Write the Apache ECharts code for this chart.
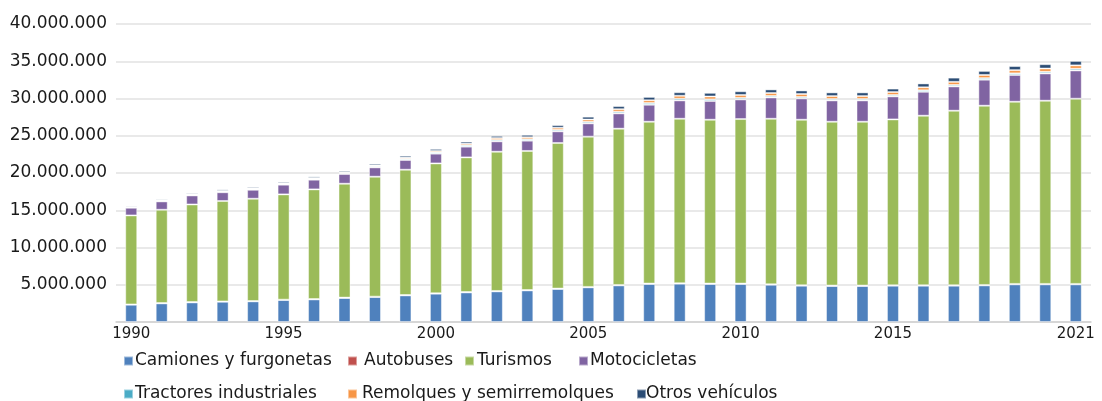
<!DOCTYPE html>
<html>
<head>
<meta charset="utf-8">
<script src="https://cdn.jsdelivr.net/npm/echarts@6/dist/echarts.min.js"></script>
<style>
  html, body { margin: 0; padding: 0; background: #fff; }
  #chart { width: 1102px; height: 401px; }
</style>
</head>
<body>
<div id="chart"></div>
<script>
// años
const years = []
for (let y = 1990; y <= 2021; y++) years.push(String(y))

// parque de vehículos, en miles
const camiones = [2320, 2500, 2630, 2720, 2770, 2950, 3030, 3220, 3350, 3570, 3800, 3970, 4110, 4240, 4430, 4650, 4910, 5100, 5140, 5100, 5100, 5000, 4870, 4830, 4830, 4870, 4870, 4870, 4910, 5050, 5050, 5050]
const autobuses = [45, 46, 47, 48, 48, 50, 51, 52, 53, 54, 56, 57, 58, 59, 60, 61, 62, 63, 63, 62, 62, 61, 61, 61, 61, 62, 62, 63, 64, 65, 64, 64]
const turismos = [11940, 12520, 13100, 13470, 13730, 14130, 14720, 15290, 16100, 16820, 17430, 18070, 18690, 18660, 19540, 20170, 20980, 21720, 22080, 21990, 22080, 22220, 22220, 21990, 21990, 22260, 22760, 23430, 24060, 24450, 24590, 24860]
const motocicletas = [1030, 1120, 1210, 1180, 1200, 1300, 1300, 1300, 1250, 1300, 1310, 1440, 1390, 1380, 1560, 1780, 2050, 2280, 2460, 2510, 2630, 2860, 2860, 2860, 2860, 3090, 3210, 3260, 3490, 3590, 3660, 3790]
const tractores = [100, 100, 110, 110, 120, 120, 130, 140, 150, 160, 170, 180, 190, 190, 200, 210, 220, 230, 230, 220, 210, 200, 200, 190, 190, 190, 200, 200, 210, 220, 220, 230]
const remolques = [50, 60, 70, 80, 90, 100, 110, 120, 140, 160, 190, 220, 250, 270, 290, 310, 340, 370, 390, 390, 390, 390, 390, 390, 390, 390, 400, 410, 420, 430, 440, 450]
const otros = [150, 160, 170, 190, 190, 200, 200, 210, 230, 260, 280, 280, 300, 330, 350, 380, 420, 450, 480, 490, 500, 490, 480, 500, 500, 470, 520, 570, 550, 550, 580, 600]

const yTicks = [0, 5000000, 10000000, 15000000, 20000000, 25000000, 30000000, 35000000, 40000000]

const FONT = 'DejaVu Sans'

const seriesDefs = [
  { name: 'Camiones y furgonetas', data: camiones, color: '#4F81BD', icon: 123, text: 134, row: 0 },
  { name: 'Autobuses', data: autobuses, color: '#C0504D', icon: 347, text: 363, row: 0 },
  { name: 'Turismos', data: turismos, color: '#9BBB59', icon: 464, text: 476, row: 0 },
  { name: 'Motocicletas', data: motocicletas, color: '#8064A2', icon: 578, text: 589, row: 0 },
  { name: 'Tractores industriales', data: tractores, color: '#4BACC6', icon: 123, text: 134, row: 1 },
  { name: 'Remolques y semirremolques', data: remolques, color: '#F79646', icon: 347, text: 361, row: 1 },
  { name: 'Otros vehículos', data: otros, color: '#2C4D75', icon: 636, text: 645, row: 1 }
]

const fmt = v => v === 0 ? '' : v.toString().replace(/\B(?=(\d{3})+(?!\d))/g, '.')

const chart = echarts.init(document.getElementById('chart'), null, { renderer: 'canvas' })

chart.setOption({
  animation: false,
  grid: { left: 116, right: 11, top: 24, bottom: 79 },
  legend: seriesDefs.map(s => ({
    data: [s.name],
    left: s.icon,
    top: s.row === 0 ? 351 : 384,
    padding: 0,
    itemWidth: 9,
    itemHeight: 9,
    icon: 'rect',
    selectedMode: false,
    textStyle: {
      fontFamily: FONT,
      fontSize: 17,
      color: '#1a1a1a',
      lineHeight: 20,
      padding: [0, 0, 0, s.text - (s.icon + 14)]
    }
  })),
  xAxis: {
    type: 'category',
    data: years,
    axisTick: { show: false },
    axisLine: { lineStyle: { color: '#d0d0d0', width: 1.5 } },
    axisLabel: {
      interval: 0,
      formatter: (v, i) => ((i % 5 === 0 && i < 30) || i === years.length - 1) ? v : '',
      fontFamily: FONT,
      fontSize: 15,
      color: '#1a1a1a',
      margin: 5
    }
  },
  yAxis: {
    type: 'value',
    min: yTicks[0],
    max: yTicks[yTicks.length - 1],
    interval: 5000000,
    axisLine: { show: false },
    axisTick: { show: false },
    splitLine: { lineStyle: { color: '#e2e2e2', width: 1.5 } },
    axisLabel: {
      formatter: fmt,
      fontFamily: FONT,
      fontSize: 17,
      color: '#1a1a1a',
      margin: 9
    }
  },
  series: seriesDefs.map(s => ({
    name: s.name,
    type: 'bar',
    stack: 'total',
    barWidth: 12,
    data: s.data.map(v => v * 1000),
    itemStyle: {
      color: s.color,
      borderColor: 'rgba(255,255,255,0.45)',
      borderWidth: 1
    }
  }))
})
</script>
</body>
</html>
